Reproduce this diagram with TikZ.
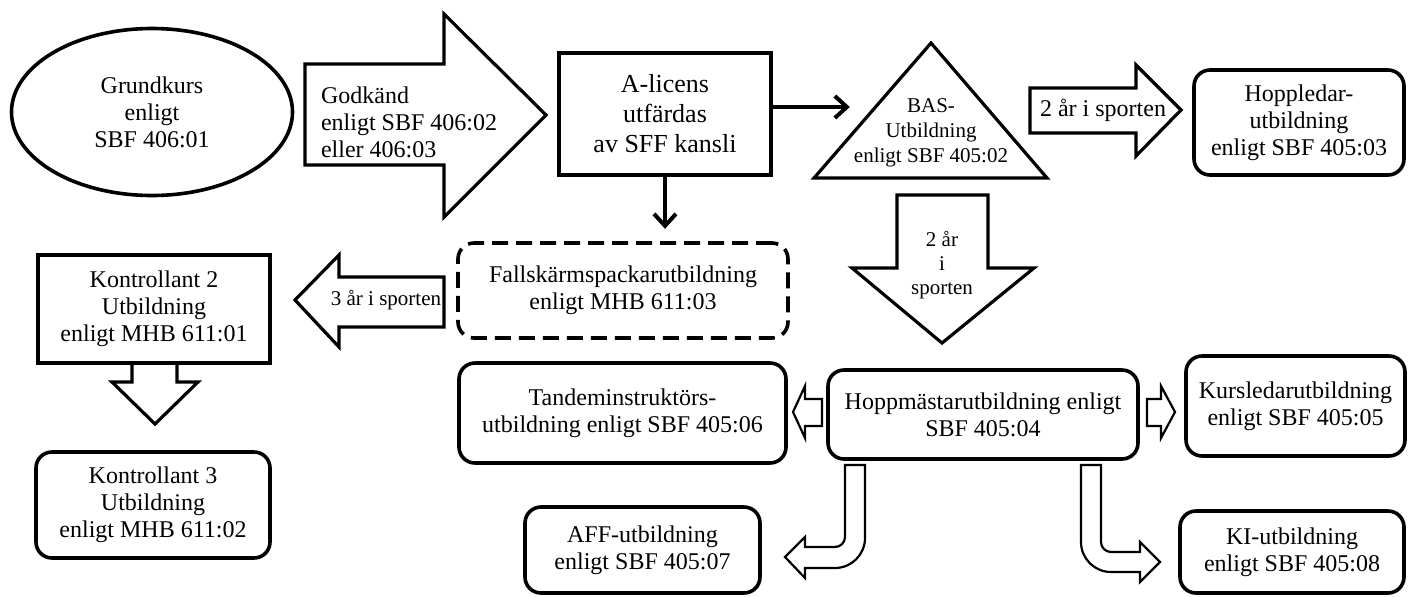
\documentclass[tikz,border=0pt]{standalone}
\usepackage{fontspec}
\setmainfont{Liberation Serif}
\usetikzlibrary{arrows.meta,shapes.geometric}

\begin{document}
\begin{tikzpicture}[x=0.5pt, y=-0.5pt,
    every node/.style={font=\fontsize{12}{13.5}\selectfont, align=center},
    box/.style={draw, line width=1.8pt, inner sep=0pt},
    rbox/.style={box, rounded corners=8pt},
    blk/.style={draw, line width=1.6pt},
    sblk/.style={draw, line width=1.1pt},
    ln/.style={line width=2pt, -{Straight Barb[length=6pt,width=11pt]}},
    smalltxt/.style={font=\fontsize{10.5}{12.5}\selectfont}]

    \useasboundingbox (0,0) rectangle (1408,596);

    % boxes
    \node[box, ellipse, minimum width=140.5pt, minimum height=83.5pt] (grund) at (152,112) {Grundkurs\\enligt\\SBF 406:01};
    \node[box, minimum width=106pt, minimum height=61pt, font=\fontsize{13}{15}\selectfont] (alic) at (665,114) {A-licens\\utfärdas\\av SFF kansli};
    \node[rbox, minimum width=105pt, minimum height=52.5pt] (hopl) at (1299,122.5) {Hoppledar-\\utbildning\\enligt SBF 405:03};
    \node[rbox, dash pattern=on 8pt off 4pt, minimum width=165pt, minimum height=47.5pt] (pack) at (623,290.5) {Fallskärmspackarutbildning\\enligt MHB 611:03};
    \node[box, minimum width=116pt, minimum height=54pt] (kon2) at (154,309) {Kontrollant 2\\Utbildning\\enligt MHB 611:01};
    \node[rbox, minimum width=117pt, minimum height=53pt] (kon3) at (153,505) {Kontrollant 3\\Utbildning\\enligt MHB 611:02};
    \node[rbox, minimum width=163.5pt, minimum height=50pt] (tand) at (622.5,413) {Tandeminstruktörs-\\utbildning enligt SBF 405:06};
    \node[rbox, minimum width=155pt, minimum height=44.5pt] (hopm) at (983,414.5) {Hoppmästarutbildning enligt\\SBF 405:04};
    \node[rbox, minimum width=109.5pt, minimum height=50pt] (kurs) at (1295.5,406) {Kursledarutbildning\\enligt SBF 405:05};
    \node[rbox, minimum width=117.5pt, minimum height=43pt] (aff) at (642.5,550) {AFF-utbildning\\enligt SBF 405:07};
    \node[rbox, minimum width=112pt, minimum height=41pt] (ki) at (1292,552) {KI-utbildning\\enligt SBF 405:08};

    % triangle
    \draw[blk] (931,43) -- (1047,178) -- (814,178) -- cycle;
    \node[smalltxt] (bas) at (931,133) {BAS-\\Utbildning\\enligt SBF 405:02};

    % block arrows
    \draw[blk] (305,64) -- (444,64) -- (444,14) -- (546,115) -- (444,217) -- (444,165) -- (305,165) -- cycle;
    \node[anchor=west, align=left] (godk) at (314,122) {Godkänd\\enligt SBF 406:02\\eller 406:03};
    \draw[blk] (1030,88) -- (1136,88) -- (1136,65) -- (1181,110) -- (1136,156) -- (1136,133) -- (1030,133) -- cycle;
    \node (spo1) at (1103,110) {2 år i sporten};
    \draw[blk] (897,195) -- (988,195) -- (988,268) -- (1034,268) -- (942,343) -- (852,268) -- (897,268) -- cycle;
    \node[smalltxt, font=\fontsize{10.5}{12}\selectfont] (spo2) at (942,265) {2 år\\i\\sporten};
    \draw[blk] (444,277) -- (339,277) -- (339,255) -- (295,300) -- (339,347) -- (339,327) -- (444,327) -- cycle;
    \node[smalltxt] (spo3) at (386,300) {3 år i sporten};
    \draw[blk] (kon2.south -| 132,0) -- (132,382) -- (112,382) -- (155,424) -- (198,382) -- (177,382) -- (kon2.south -| 177,0);

    % small and bent arrows
    \draw[sblk] (822,399) -- (805,399) -- (805,386) -- (793,412) -- (805,438) -- (805,426) -- (822,426) -- cycle;
    \draw[sblk] (1147,399) -- (1161,399) -- (1161,386) -- (1175,412) -- (1161,438) -- (1161,426) -- (1147,426) -- cycle;
    \draw[sblk] (845,465) -- (845,537) arc[start angle=0, end angle=90, radius=10] -- (805,547) -- (805,537) -- (785,557) -- (805,578) -- (805,568) -- (835,568) arc[start angle=90, end angle=0, radius=30] -- (865,465) -- cycle;
    \draw[sblk] (1101,465) -- (1101,542) arc[start angle=180, end angle=90, radius=10] -- (1140,552) -- (1140,542) -- (1160,562) -- (1140,582) -- (1140,572) -- (1111,572) arc[start angle=90, end angle=180, radius=30] -- (1081,465) -- cycle;

    % line arrows
    \draw[ln] ([yshift=3.5pt]alic.east) -- ++(77,0);
    \draw[ln] (alic.south) -- ++(0,52);

\end{tikzpicture}
\end{document}
